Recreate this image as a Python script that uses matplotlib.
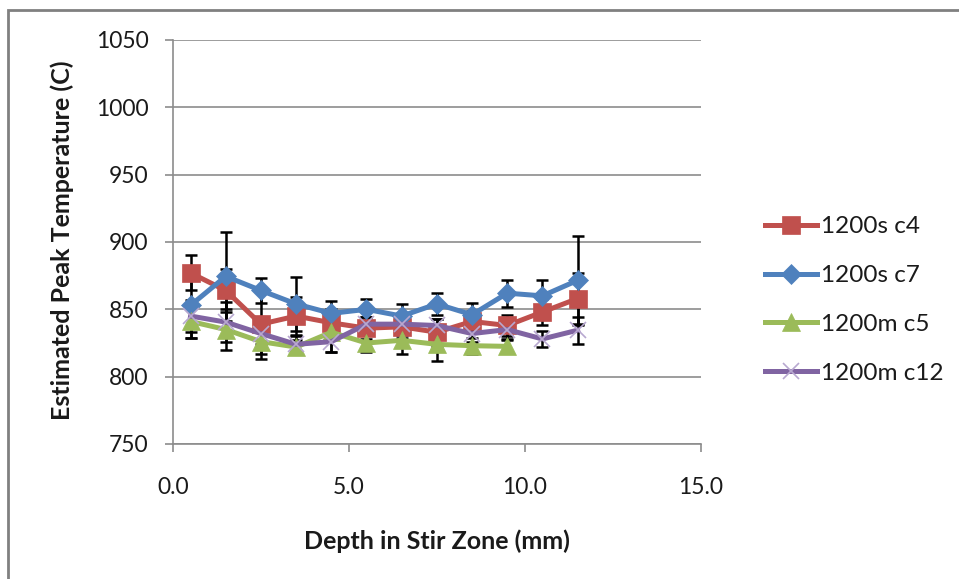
import matplotlib
matplotlib.use("Agg")
import matplotlib.pyplot as plt
from matplotlib.patches import Rectangle

plt.rcParams['font.family'] = ['Lato', 'DejaVu Sans']

depth = [0.5, 1.5, 2.5, 3.5, 4.5, 5.5, 6.5, 7.5, 8.5, 9.5, 10.5, 11.5]

s_c4 = [877, 864, 839, 845, 840, 836, 837, 833, 841, 838, 848, 858]
s_c4_err = [13, 16, 26, 14, 10, 8, 8, 10, 8, 8, 10, 19]

s_c7 = [853, 874.5, 864, 854, 847, 850, 845, 854, 846, 862, 860, 871.5]
s_c7_err = [24, 33, 9, 20, 9, 8, 9, 8, 9, 10, 12, 33]

m_c5 = [841, 835, 826, 822, 833, 825, 827, 824, 823, 822.5]
m_c5_err = [12, 15, 9, 5, 15, 7, 10, 12, 6, 5]

m_c12 = [845, 840.5, 832, 824, 826, 839, 839, 838, 832, 835, 828, 834.5]
m_c12_err = [12, 15, 8, 6, 8, 5, 8, 5, 6, 7, 6, 10]

labels = ['1200s c4', '1200s c7', '1200m c5', '1200m c12']
colors = ['#C0504D', '#4F81BD', '#9BBB59', '#8064A2']

xticks = [0.0, 5.0, 10.0, 15.0]
yticks = [750, 800, 850, 900, 950, 1000, 1050]

fig = plt.figure(figsize=(9.59, 5.79), dpi=100)
ax = fig.add_axes([173/959, 1-444/579, (700.7-173)/959, (444-40)/579])

series = [
    (depth, s_c4, s_c4_err, 's', 12.5, colors[0]),
    (depth, s_c7, s_c7_err, 'D', 10, colors[1]),
    (depth[:len(m_c5)], m_c5, m_c5_err, '^', 12.5, colors[2]),
    (depth, m_c12, m_c12_err, 'x', 11, colors[3]),
]
for (x, y, e, mk, ms, c), lab in zip(series, labels):
    ax.errorbar(x, y, yerr=e, ecolor='black', elinewidth=1.8, capsize=4.5,
                capthick=1.8, fmt='none', zorder=2)
    mec = '#B8A8D0' if mk == 'x' else c
    ax.plot(x, y, color=c, lw=3.6, marker=mk, markersize=ms,
            markerfacecolor=c, markeredgecolor=mec, markeredgewidth=1.2 if mk == 'x' else 0.5,
            label=lab, zorder=3)

ax.set_xlim(0, 15)
ax.set_ylim(750, 1050)
ax.set_xticks(xticks)
ax.set_xticklabels([f'{t:.1f}' for t in xticks])
ax.set_yticks(yticks)
ax.yaxis.grid(True, color='#8C8C8C', lw=1.2)
ax.set_axisbelow(True)
for s in ['top', 'right']:
    ax.spines[s].set_visible(False)
for s in ['left', 'bottom']:
    ax.spines[s].set_color('#8C8C8C')
    ax.spines[s].set_linewidth(1.2)
ax.tick_params(axis='both', direction='out', length=6, width=1.2, color='#8C8C8C',
               labelsize=16.5, labelcolor='#1a1a1a')
ax.tick_params(axis='y', pad=11.5)
ax.tick_params(axis='x', pad=18)

fig.text(62/959, 1-240/579, 'Estimated Peak Temperature (C)', rotation=90,
         ha='center', va='center', fontsize=18, fontweight='bold', color='#1a1a1a')
fig.text(437/959, 1-541/579, 'Depth in Stir Zone (mm)', ha='center', va='center',
         fontsize=18, fontweight='bold', color='#1a1a1a')

leg = ax.legend(loc='center left', bbox_to_anchor=(755/959, 1-300/579),
                bbox_transform=fig.transFigure, frameon=False, fontsize=17.5,
                borderaxespad=0, handlelength=2.15, handletextpad=0.15,
                labelspacing=1.15)
for t in leg.get_texts():
    t.set_color('#1a1a1a')

fig.patches.append(Rectangle((8/959, -0.1), 1.1, 1 - 10/579 + 0.1,
                             transform=fig.transFigure, fill=False,
                             edgecolor='#808080', lw=2.0))

fig.savefig('out.png', dpi=100)
